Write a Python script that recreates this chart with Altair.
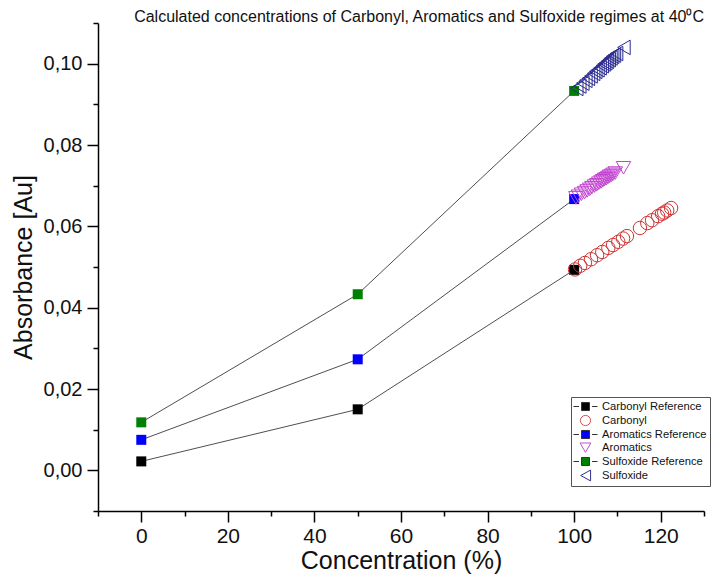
import altair as alt
import pandas as pd

FONT = "Liberation Sans"

# ---------------- data ----------------
series_names = ["Carbonyl Reference", "Carbonyl", "Aromatics Reference",
                "Aromatics", "Sulfoxide Reference", "Sulfoxide"]

ref_x = [0, 50, 100]
carbonyl_ref_y = [0.0022, 0.0150, 0.0493]
aromatics_ref_y = [0.0075, 0.0273, 0.0667]
sulfoxide_ref_y = [0.0118, 0.0433, 0.0933]

carbonyl_x = [100.2, 101.4, 102.5, 103.9, 105.3, 106.5, 107.9, 109.0, 110.2, 111.3,
              112.2, 115.2, 116.9, 118.0, 119.4, 120.3, 120.8, 121.5, 122.4]
carbonyl_y = [0.0494, 0.0503, 0.0510, 0.0519, 0.0529, 0.0537, 0.0547, 0.0554, 0.0562, 0.0570,
              0.0576, 0.0596, 0.0608, 0.0615, 0.0625, 0.0631, 0.0634, 0.0639, 0.0645]

aromatics_x = [100.4, 101.0, 101.7, 102.4, 103.0, 103.6, 104.1, 104.7, 105.2, 105.7,
               106.2, 106.6, 107.0, 107.4, 107.8, 108.2, 108.6, 109.0, 109.5, 111.4]
aromatics_y = [0.0670, 0.0674, 0.0679, 0.0683, 0.0687, 0.0691, 0.0695, 0.0699, 0.0702, 0.0706,
               0.0709, 0.0712, 0.0715, 0.0717, 0.0720, 0.0723, 0.0725, 0.0728, 0.0731, 0.0744]

sulfoxide_x = [100.6, 101.3, 102.0, 102.7, 103.3, 103.9, 104.5, 105.0, 105.5, 106.0,
               106.5, 106.9, 107.3, 107.7, 108.1, 108.5, 108.9, 109.3, 109.8, 111.5]
sulfoxide_y = [0.0939, 0.0945, 0.0952, 0.0959, 0.0964, 0.0970, 0.0976, 0.0981, 0.0985, 0.0990,
               0.0995, 0.0999, 0.1002, 0.1006, 0.1010, 0.1014, 0.1018, 0.1021, 0.1025, 0.1040]

title_text = "Calculated concentrations of Carbonyl, Aromatics and Sulfoxide regimes at 40\u2070C"

# ---------------- table ----------------
rows = []
for name, xs_, ys_ in [
    ("Carbonyl Reference", ref_x, carbonyl_ref_y),
    ("Carbonyl", carbonyl_x, carbonyl_y),
    ("Aromatics Reference", ref_x, aromatics_ref_y),
    ("Aromatics", aromatics_x, aromatics_y),
    ("Sulfoxide Reference", ref_x, sulfoxide_ref_y),
    ("Sulfoxide", sulfoxide_x, sulfoxide_y),
]:
    for i, (xv, yv) in enumerate(zip(xs_, ys_)):
        rows.append({"series": name, "x": xv, "y": yv, "order": i})
df = pd.DataFrame(rows)

# ---------------- styles ----------------
fill_range = ["#000000", "transparent", "#0000ff", "transparent", "#008000", "transparent"]
stroke_range = ["#333333", "#d0504a", "#333333", "#c24fd0", "#333333", "#30308f"]
# legend glyphs (unit = 6 px), drawn shifted right inside the legend symbol column
ref_sym = "M-1.17,0H-0.25M1.92,0H2.83M0.17,-0.67H1.5V0.67H0.17Z"
circ_sym = "M1.68,0A0.85,0.85,0,1,1,-0.02,0A0.85,0.85,0,1,1,1.68,0Z"
tdown_sym = "M-0.07,-0.75L1.73,-0.75L0.83,0.8Z"
tleft_sym = "M0.03,0L1.68,-0.9L1.68,0.9Z"
shape_range = [ref_sym, circ_sym, ref_sym, tdown_sym, ref_sym, tleft_sym]

x_axis = alt.Axis(
    title="Concentration (%)",
    values=list(range(-10, 131, 10)),
    labelExpr="datum.value % 20 == 0 ? datum.label : ''",
    tickSize={"condition": {"test": "datum.value % 20 == 0", "value": 11}, "value": 5},
    grid=False, labelFontSize=21, titleFontSize=25, titleFontWeight="normal",
    labelFont=FONT, titleFont=FONT, labelColor="#111", titleColor="#111",
    domainColor="#000", tickColor="#000", domainWidth=1.5, tickWidth=1.5,
    labelPadding=3, titlePadding=2, labelOverlap=False, labelFlush=False, labelBound=False,
)
y_axis = alt.Axis(
    title="Absorbance [Au]",
    values=[round(-0.01 + 0.01 * i, 2) for i in range(13)],
    labelExpr="abs(round(datum.value*100)) % 2 == 0 ? replace(format(datum.value, '.2f'), '.', ',') : ''",
    tickSize={"condition": {"test": "abs(round(datum.value*100)) % 2 == 0", "value": 11}, "value": 5},
    grid=False, labelFontSize=20, titleFontSize=25, titleFontWeight="normal",
    labelFont=FONT, titleFont=FONT, labelColor="#111", titleColor="#111",
    domainColor="#000", tickColor="#000", domainWidth=1.5, tickWidth=1.5,
    labelPadding=5, titlePadding=7, labelOverlap=False, labelFlush=False, labelBound=False,
)

xs = alt.Scale(domain=[-10, 130], nice=False, zero=False)
ys = alt.Scale(domain=[-0.01, 0.11], nice=False, zero=False)

base = alt.Chart(df)
X = alt.X("x:Q", scale=xs, axis=x_axis)
Y = alt.Y("y:Q", scale=ys, axis=y_axis)

lines = base.transform_filter(
    "indexof(datum.series, 'Reference') >= 0"
).mark_line(color="#222", strokeWidth=0.8).encode(
    x=X, y=Y, detail="series:N", order="order:Q"
)

layers = [lines]
# reference squares (filled)
for name, col in [("Carbonyl Reference", "#000000"), ("Aromatics Reference", "#0000ff"),
                  ("Sulfoxide Reference", "#008000")]:
    layers.append(base.transform_filter(f"datum.series == '{name}'").mark_point(
        shape="square", filled=True, size=100, opacity=1, strokeWidth=0, color=col
    ).encode(x=X, y=Y))

# hollow markers
for name, shape, size, col in [("Carbonyl", "circle", 180, "#cc3333"),
                               ("Aromatics", "triangle-down", 210, "#c244d0"),
                               ("Sulfoxide", "triangle-left", 210, "#2a2a90")]:
    layers.append(base.transform_filter(f"datum.series == '{name}'").mark_point(
        shape=shape, filled=False, size=size, opacity=1, strokeWidth=1,
        stroke=col, fill="transparent"
    ).encode(x=X, y=Y))

# legend-only layer (draws nothing; the legend is built from the explicit domains)
legend_layer = base.transform_filter("datum.x < -1000").mark_point(
    filled=True, opacity=1, strokeWidth=1
).encode(
    x=X, y=Y,
    shape=alt.Shape("series:N", scale=alt.Scale(domain=series_names, range=shape_range),
                    legend=alt.Legend(title=None, orient="none", legendX=473, legendY=374,
                                      symbolSize=144, symbolStrokeWidth=1,
                                      labelFont=FONT, labelFontSize=11.2, labelColor="#111",
                                      labelOffset=15, rowPadding=0, padding=3,
                                      strokeColor="#555", fillColor="white")),
    fill=alt.Fill("series:N", scale=alt.Scale(domain=series_names, range=fill_range)),
    stroke=alt.Stroke("series:N", scale=alt.Scale(domain=series_names, range=stroke_range)),
)
layers.append(legend_layer)

chart = alt.layer(*layers).properties(
    width=606, height=488,
    title=alt.TitleParams(title_text, anchor="end", frame="group", fontSize=16, font=FONT,
                          fontWeight="normal", color="#111", offset=-12),
    autosize=alt.AutoSizeParams(type="none"),
    padding={"left": 90, "top": 15, "right": 9, "bottom": 63},
).configure_view(stroke=None)

chart.save("out.html", embed_options={"renderer": "svg", "actions": False})
